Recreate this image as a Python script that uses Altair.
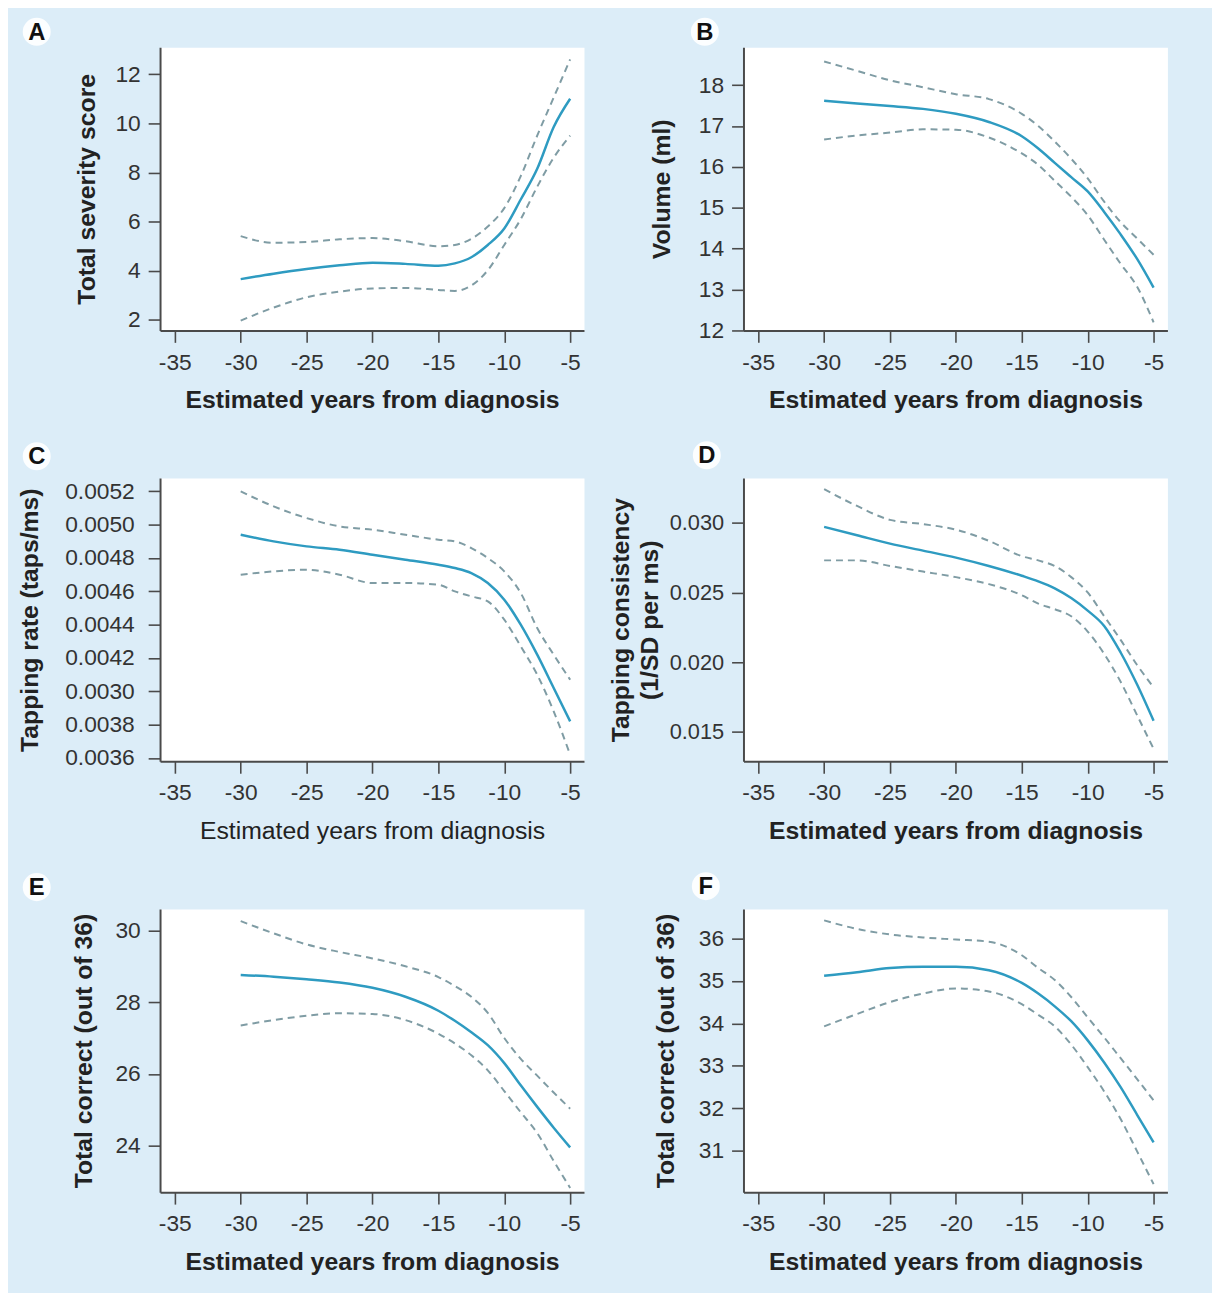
import altair as alt
import pandas as pd

# ---------------- data ----------------
YEARS = [-30, -27.5, -25, -22.5, -20, -17.5, -15, -13.75, -12.5, -11.25, -10, -8.75, -7.5, -6.25, -5]

A_FIT   = [3.66, 3.88, 4.07, 4.22, 4.33, 4.28, 4.20, 4.30, 4.55, 5.05, 5.72, 6.90, 8.15, 9.85, 11.0]
A_UPPER = [5.41, 5.14, 5.17, 5.28, 5.33, 5.20, 5.00, 5.05, 5.30, 5.80, 6.55, 7.85, 9.50, 11.05, 12.6]
A_LOWER = [1.97, 2.50, 2.92, 3.15, 3.28, 3.30, 3.22, 3.18, 3.40, 4.02, 5.05, 6.10, 7.42, 8.60, 9.50]

B_FIT   = [17.62, 17.55, 17.49, 17.42, 17.30, 17.10, 16.75, 16.45, 16.10, 15.75, 15.40, 14.90, 14.35, 13.75, 13.05]
B_UPPER = [18.58, 18.35, 18.12, 17.95, 17.78, 17.66, 17.30, 17.00, 16.62, 16.20, 15.72, 15.15, 14.65, 14.25, 13.85]
B_LOWER = [16.67, 16.77, 16.84, 16.92, 16.91, 16.72, 16.33, 16.05, 15.66, 15.27, 14.82, 14.22, 13.63, 13.07, 12.20]

C_FIT   = [0.00494, 0.00490, 0.00487, 0.00485, 0.00482, 0.00479, 0.00476, 0.00474, 0.00471, 0.00465, 0.00455, 0.00440, 0.00422, 0.00402, 0.00382]
C_UPPER = [0.00520, 0.00511, 0.00504, 0.00499, 0.00497, 0.00494, 0.00491, 0.00490, 0.00486, 0.00480, 0.00472, 0.00459, 0.00438, 0.00422, 0.00407]
C_LOWER = [0.00470, 0.00472, 0.00473, 0.00470, 0.00465, 0.00465, 0.00464, 0.00460, 0.00457, 0.00454, 0.00443, 0.00427, 0.00410, 0.00388, 0.00362]

D_FIT   = [0.0297, 0.0291, 0.0285, 0.0280, 0.0275, 0.0269, 0.0262, 0.0258, 0.0253, 0.0246, 0.0237, 0.0226, 0.0207, 0.0184, 0.0158]
D_UPPER = [0.0324, 0.0312, 0.0302, 0.0299, 0.0295, 0.0287, 0.0276, 0.0273, 0.0269, 0.0261, 0.0250, 0.0233, 0.0216, 0.0198, 0.0182]
D_LOWER = [0.0273, 0.0273, 0.0269, 0.0265, 0.0261, 0.0256, 0.0248, 0.0242, 0.0238, 0.0233, 0.0222, 0.0206, 0.0186, 0.0162, 0.0138]

E_FIT   = [28.76, 28.71, 28.64, 28.55, 28.40, 28.15, 27.76, 27.48, 27.16, 26.80, 26.30, 25.68, 25.08, 24.50, 23.95]
E_UPPER = [30.26, 29.92, 29.61, 29.40, 29.22, 29.00, 28.70, 28.45, 28.15, 27.70, 27.00, 26.42, 25.95, 25.48, 25.03]
E_LOWER = [27.35, 27.50, 27.62, 27.69, 27.67, 27.50, 27.12, 26.85, 26.52, 26.10, 25.52, 24.93, 24.35, 23.57, 22.82]

F_FIT   = [35.12, 35.20, 35.30, 35.33, 35.33, 35.25, 34.95, 34.70, 34.40, 34.05, 33.60, 33.08, 32.50, 31.85, 31.20]
F_UPPER = [36.42, 36.22, 36.09, 36.02, 35.97, 35.92, 35.60, 35.30, 35.02, 34.62, 34.14, 33.67, 33.18, 32.69, 32.19]
F_LOWER = [33.93, 34.22, 34.50, 34.70, 34.82, 34.75, 34.45, 34.20, 33.93, 33.50, 32.97, 32.40, 31.75, 30.99, 30.22]

X_TICKS = [-35, -30, -25, -20, -15, -10, -5]
X_TICK_LABELS = ["-35", "-30", "-25", "-20", "-15", "-10", "-5"]

A_TICKS = [2, 4, 6, 8, 10, 12]
A_TICK_LABELS = ["2", "4", "6", "8", "10", "12"]
B_TICKS = [12, 13, 14, 15, 16, 17, 18]
B_TICK_LABELS = ["12", "13", "14", "15", "16", "17", "18"]
C_TICKS = [0.0036, 0.0038, 0.0040, 0.0042, 0.0044, 0.0046, 0.0048, 0.0050, 0.0052]
C_TICK_LABELS = ["0.0036", "0.0038", "0.0030", "0.0042", "0.0044", "0.0046", "0.0048", "0.0050", "0.0052"]
D_TICKS = [0.015, 0.020, 0.025, 0.030]
D_TICK_LABELS = ["0.015", "0.020", "0.025", "0.030"]
E_TICKS = [24, 26, 28, 30]
E_TICK_LABELS = ["24", "26", "28", "30"]
F_TICKS = [31, 32, 33, 34, 35, 36]
F_TICK_LABELS = ["31", "32", "33", "34", "35", "36"]

LETTERS = ["A", "B", "C", "D", "E", "F"]
Y_TITLES = [
    "Total severity score",
    "Volume (ml)",
    "Tapping rate (taps/ms)",
    ["Tapping consistency", "(1/SD per ms)"],
    "Total correct (out of 36)",
    "Total correct (out of 36)",
]
X_TITLE = "Estimated years from diagnosis"

# ---------------- styling ----------------
W, H = 428, 286
X_DOMAIN = [-36.12, -3.95]
FIT_COLOR = "#2e9bc1"
CI_COLOR = "#7f9ca4"
BG = "#dcedf8"
FONT = "Liberation Sans"

PANELS = [
    dict(fit=A_FIT, up=A_UPPER, lo=A_LOWER, ticks=A_TICKS, labels=A_TICK_LABELS,
         domain=[1.57, 13.1], tx=-66, lx=-124.5, ly=-15.5, lfs=23, lpad=8, xbold=True),
    dict(fit=B_FIT, up=B_UPPER, lo=B_LOWER, ticks=B_TICKS, labels=B_TICK_LABELS,
         domain=[12.0, 18.93], tx=-75, lx=-39, ly=-15.5, lfs=23, lpad=8, xbold=True),
    dict(fit=C_FIT, up=C_UPPER, lo=C_LOWER, ticks=C_TICKS, labels=C_TICK_LABELS,
         domain=[0.00358, 0.00528], tx=-124, lx=-124.5, ly=-22, lfs=23, lpad=14, xbold=False),
    dict(fit=D_FIT, up=D_UPPER, lo=D_LOWER, ticks=D_TICKS, labels=D_TICK_LABELS,
         domain=[0.0129, 0.0332], tx=-116, lx=-37, ly=-23, lfs=22, lpad=8, xbold=True),
    dict(fit=E_FIT, up=E_UPPER, lo=E_LOWER, ticks=E_TICKS, labels=E_TICK_LABELS,
         domain=[22.7, 30.6], tx=-69, lx=-124.5, ly=-22, lfs=23, lpad=8, xbold=True),
    dict(fit=F_FIT, up=F_UPPER, lo=F_LOWER, ticks=F_TICKS, labels=F_TICK_LABELS,
         domain=[30.03, 36.69], tx=-70.5, lx=-38, ly=-23, lfs=23, lpad=8, xbold=True),
]


def label_expr(ticks, labels):
    expr = "''"
    for v, lab in reversed(list(zip(ticks, labels))):
        expr = f"abs(datum.value - ({v})) < 1e-9 ? '{lab}' : {expr}"
    return expr


def make_panel(i, p):
    rows = []
    for name, vals in (("fit", p["fit"]), ("upper", p["up"]), ("lower", p["lo"])):
        for yr, v in zip(YEARS, vals):
            rows.append({"year": yr, "value": v, "series": name})
    df = pd.DataFrame(rows)

    x_enc = alt.X(
        "year:Q",
        scale=alt.Scale(domain=X_DOMAIN, nice=False, zero=False),
        axis=alt.Axis(
            values=X_TICKS,
            labelExpr=label_expr(X_TICKS, X_TICK_LABELS),
            title=X_TITLE,
            titleFontWeight="bold" if p["xbold"] else "normal",
            titleBaseline="alphabetic",
            titleY=78,
            labelPadding=9,
            labelOverlap=False,
            labelFlush=False,
        ),
    )
    y_enc = alt.Y(
        "value:Q",
        scale=alt.Scale(domain=p["domain"], nice=False, zero=False),
        axis=alt.Axis(
            values=p["ticks"],
            labelExpr=label_expr(p["ticks"], p["labels"]),
            title=Y_TITLES[i],
            titleX=p["tx"],
            titleY=H / 2,
            titleBaseline="alphabetic",
            titleLineHeight=29,
            labelFontSize=p["lfs"],
            labelPadding=p["lpad"],
            labelOverlap=False,
            labelFlush=False,
        ),
    )

    base = alt.Chart(df)
    ci = base.transform_filter("datum.series != 'fit'").mark_line(
        color=CI_COLOR, strokeWidth=2, strokeDash=[7, 5], interpolate="monotone"
    ).encode(x=x_enc, y=y_enc, detail="series:N")
    fit = base.transform_filter("datum.series == 'fit'").mark_line(
        color=FIT_COLOR, strokeWidth=2.5, interpolate="monotone"
    ).encode(x=x_enc, y=y_enc)

    lab_df = pd.DataFrame({"t": [LETTERS[i]]})
    circle = alt.Chart(lab_df).mark_circle(color="white", opacity=0.9, size=800).encode(
        x=alt.value(p["lx"]), y=alt.value(p["ly"])
    )
    letter = alt.Chart(lab_df).mark_text(
        font=FONT, fontSize=24, fontWeight="bold", color="#111111",
        align="center", baseline="middle"
    ).encode(text="t:N", x=alt.value(p["lx"]), y=alt.value(p["ly"] + 1))

    return alt.layer(ci, fit, circle, letter).properties(width=W, height=H)


panels = [make_panel(i, p) for i, p in enumerate(PANELS)]

chart = alt.concat(*panels, columns=2, spacing={"row": 27, "column": 23}).properties(
    background=BG,
    padding={"left": 8.5, "top": 2.4, "right": 44, "bottom": 12},
).configure_view(
    fill="white", stroke="transparent"
).configure_axis(
    grid=False,
    domainColor="#4a4a4a",
    domainWidth=2,
    tickColor="#4a4a4a",
    tickWidth=1.6,
    tickSize=12,
    labelFont=FONT,
    labelFontSize=23,
    labelColor="#333333",
    labelPadding=8,
    titleFont=FONT,
    titleFontSize=25,
    titleFontWeight="bold",
    titleColor="#222222",
)

chart.save("out.html", embed_options={"renderer": "svg", "actions": False})
